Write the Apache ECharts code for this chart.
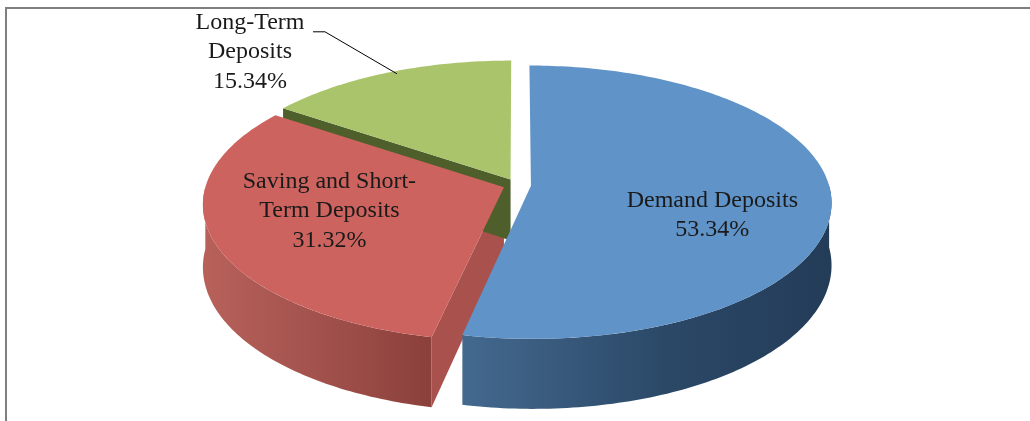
<!DOCTYPE html>
<html>
<head>
<meta charset="utf-8">
<title>Structure of deposits</title>
<script src="https://cdn.jsdelivr.net/npm/echarts@6/dist/echarts.min.js"></script>
<style>
  html, body { margin: 0; padding: 0; background: #fff; }
  #chart { width: 1030px; height: 421px; }
</style>
</head>
<body>
<div id="chart"></div>
<script>
// slices, clockwise from 12 o'clock
var categories = ['Demand Deposits', 'Saving and Short-Term Deposits', 'Long-Term Deposits'];
var labelNames = ['Demand Deposits', 'Saving and Short-\nTerm Deposits', 'Long-Term\nDeposits'];
var shares = [53.34, 31.32, 15.34];

var topColors = ['#6093c8', '#cc635e', '#a9c46b'];
var wallColors = [['#44698f', '#2b4867', '#233c58'], ['#b8615b', '#a0504b', '#8b403b'], ['#56662f', '#4e5e2b', '#4a5828']];
var cutColors = ['#2f4c6c', '#a9524d', '#4f5f2c'];

// fake 3d projection (tilted, light perspective)
var CX = 517, CY = 185;
var SX = 298, SZ = 134.5;
var PERSP = 0.121;
var DEPTH = 61.5;
var EXPLODE = 0.047;

var total = shares.reduce(function (a, b) { return a + b; }, 0);
var starts = [], ends = [], mids = [];
var acc = 0;
shares.forEach(function (v) {
  var a0 = acc / total * Math.PI * 2;
  acc += v;
  var a1 = acc / total * Math.PI * 2;
  starts.push(a0); ends.push(a1); mids.push((a0 + a1) / 2);
});

function proj(x, z, h) {
  var k = 1 + PERSP * z;
  return [CX + SX * x / k, CY - SZ * z / k + DEPTH * h / k];
}
function pt(i, th, rho, h) {
  var m = mids[i];
  var vx = EXPLODE * Math.sin(m), vz = EXPLODE * Math.cos(m);
  return proj(vx + rho * Math.sin(th), vz + rho * Math.cos(th), h);
}
function arc(i, from, to, h) {
  var n = Math.max(2, Math.ceil(Math.abs(to - from) / (Math.PI / 180)));
  var out = [];
  for (var j = 0; j <= n; j++) out.push(pt(i, from + (to - from) * j / n, 1, h));
  return out;
}

var wallOrder = [2, 1, 3];  // painter order of the side walls
var labelInside = [true, true, false];
var labelNudge = [[2, 21], [-3, -7], [-137, -21]];
var FONT = '"Liberation Serif", "Times New Roman", serif';

function renderItem(params, api) {
  var i = params.dataIndex;
  var a0 = starts[i], a1 = ends[i];
  var kids = [];
  var grad = new echarts.graphic.LinearGradient(0, 0, 1, 0, [
    { offset: 0, color: wallColors[i][0] },
    { offset: 0.55, color: wallColors[i][1] },
    { offset: 1, color: wallColors[i][2] }
  ]);

  // outer wall, front half only
  var lo = Math.max(a0, Math.PI / 2), hi = Math.min(a1, Math.PI * 1.5);
  if (hi > lo) {
    var w = arc(i, lo, hi, 0).concat(arc(i, hi, lo, 1));
    kids.push({ type: 'polygon', z2: wallOrder[i], shape: { points: w }, style: { fill: grad } });
  }
  // cut faces
  if (Math.sin(a0) < -1e-6) {
    kids.push({ type: 'polygon', z2: wallOrder[i], shape: { points: [pt(i, a0, 0, 0), pt(i, a0, 1, 0), pt(i, a0, 1, 1), pt(i, a0, 0, 1)] }, style: { fill: cutColors[i] } });
  }
  if (Math.sin(a1) > 1e-6) {
    kids.push({ type: 'polygon', z2: wallOrder[i], shape: { points: [pt(i, a1, 0, 0), pt(i, a1, 1, 0), pt(i, a1, 1, 1), pt(i, a1, 0, 1)] }, style: { fill: cutColors[i] } });
  }
  // top face
  var top = [pt(i, 0, 0, 0)].concat(arc(i, a0, a1, 0));
  kids.push({ type: 'polygon', z2: 10, shape: { points: top }, style: { fill: topColors[i] } });

  // label
  var txt = labelNames[i] + '\n' + api.value(0).toFixed(2) + '%';
  var lx, ly;
  if (labelInside[i]) {
    var p = pt(i, mids[i], 0.6, 0);
    lx = p[0] + labelNudge[i][0]; ly = p[1] + labelNudge[i][1];
  } else {
    var r = pt(i, mids[i], 1, 0);
    lx = r[0] + labelNudge[i][0]; ly = r[1] + labelNudge[i][1];
    kids.push({ type: 'polyline', z2: 20, shape: { points: [[r[0] + 10, r[1] + 1], [r[0] - 62, r[1] - 41], [r[0] - 74, r[1] - 41]] }, style: { stroke: '#000', lineWidth: 1, fill: null } });
  }
  kids.push({ type: 'text', z2: 21, style: {
    text: txt, x: lx, y: ly, align: 'center', verticalAlign: 'middle',
    fontSize: 24, fontFamily: FONT, lineHeight: 29.5, fill: '#1a1a1a'
  } });

  return { type: 'group', children: kids };
}

var chart = echarts.init(document.getElementById('chart'));
chart.setOption({
  animation: false,
  backgroundColor: '#fff',
  graphic: [{
    type: 'rect', silent: true, z: -1,
    shape: { x: 6, y: 8, width: 1100, height: 500 },
    style: { fill: null, stroke: '#7f7f7f', lineWidth: 2 }
  }],
  series: [{
    type: 'custom',
    name: 'Deposits',
    coordinateSystem: 'none',
    renderItem: renderItem,
    data: shares.map(function (v, k) { return { name: categories[k], value: [v] }; })
  }]
});

window.addEventListener('resize', function () {
  chart.resize();
});
</script>
</body>
</html>
